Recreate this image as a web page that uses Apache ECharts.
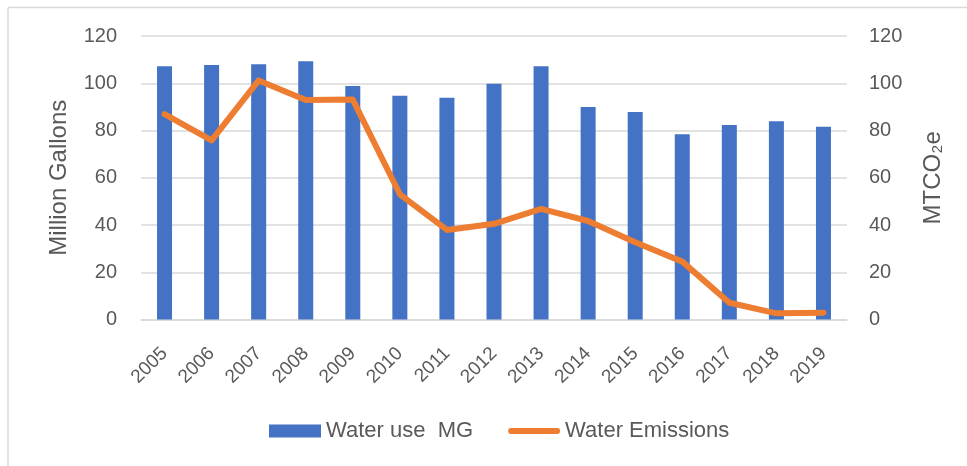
<!DOCTYPE html>
<html>
<head>
<meta charset="utf-8"/>
<title>Water use and emissions</title>
<script src="https://cdn.jsdelivr.net/npm/echarts@6/dist/echarts.min.js"></script>
<style>
  html, body { margin: 0; padding: 0; background: #fff; }
  #container { width: 967px; height: 466px; }
</style>
</head>
<body>
<div id="container"></div>
<script type="text/javascript">
    // years on the x axis
    var years = ['2005', '2006', '2007', '2008', '2009', '2010', '2011', '2012',
                 '2013', '2014', '2015', '2016', '2017', '2018', '2019'];
    // water use, million gallons (left axis)
    var waterUse = [107.2, 107.7, 108.0, 109.3, 98.8, 94.7, 93.9, 99.8,
                    107.2, 89.9, 87.8, 78.4, 82.3, 83.9, 81.6];
    // water emissions, MTCO2e (right axis)
    var waterEmissions = [86.9, 75.8, 101.2, 92.9, 93.1, 53.0, 37.9, 40.5,
                          46.8, 41.7, 32.7, 24.5, 7.1, 2.6, 2.9];

    var fontFamily = "'Liberation Sans', 'DejaVu Sans', sans-serif";
    var textColor = '#595959';

    var myChart = echarts.init(document.getElementById('container'));

    var option = {
        animation: false,
        textStyle: { fontFamily: fontFamily },
        grid: {
            left: 141,
            right: 120,
            top: 36,
            bottom: 146.5
        },
        // light frame around the chart (only top and left edges show)
        graphic: [
            { type: 'line', shape: { x1: 8, y1: 7.5, x2: 967, y2: 7.5 }, style: { stroke: '#d9d9d9', lineWidth: 1.5 } },
            { type: 'line', shape: { x1: 8, y1: 7.5, x2: 8, y2: 466 }, style: { stroke: '#d9d9d9', lineWidth: 1.5 } }
        ],
        legend: {
            left: 264,
            top: 415,
            itemGap: 35,
            itemWidth: 52,
            itemHeight: 13,
            textStyle: { color: textColor, fontSize: 22, fontFamily: fontFamily },
            data: [
                { name: 'Water use  MG', icon: 'rect' },
                // thin rounded bar, padded to the full icon box so it is not stretched
                { name: 'Water Emissions', icon: 'path://M0,0M54,13M3,3.5L51,3.5A3,3,0,0,1,51,9.5L3,9.5A3,3,0,0,1,3,3.5Z' }
            ]
        },
        xAxis: {
            type: 'category',
            data: years,
            axisLine: { show: true, lineStyle: { color: '#d9d9d9', width: 1.5 } },
            axisTick: { show: false },
            axisLabel: {
                interval: 0,
                rotate: 45,
                margin: 31,
                color: textColor,
                fontSize: 19,
                fontFamily: fontFamily
            }
        },
        yAxis: [
            {
                type: 'value',
                min: 0,
                max: 120,
                interval: 20,
                name: 'Million Gallons',
                nameLocation: 'middle',
                nameRotate: 90,
                nameGap: 70,
                nameTextStyle: { color: textColor, fontSize: 24, fontFamily: fontFamily },
                axisLine: { show: false },
                axisTick: { show: false },
                axisLabel: { color: textColor, fontSize: 20, margin: 24, fontFamily: fontFamily },
                splitLine: { lineStyle: { color: '#d9d9d9', width: 1.5 } }
            },
            {
                type: 'value',
                min: 0,
                max: 120,
                interval: 20,
                position: 'right',
                name: 'MTCO\u2082e',
                nameLocation: 'middle',
                nameRotate: 90,
                nameGap: 74,
                nameTextStyle: { color: textColor, fontSize: 24, fontFamily: fontFamily },
                axisLine: { show: false },
                axisTick: { show: false },
                axisLabel: { color: textColor, fontSize: 20, margin: 22, fontFamily: fontFamily },
                splitLine: { show: false }
            }
        ],
        series: [
            {
                name: 'Water use  MG',
                type: 'bar',
                yAxisIndex: 0,
                barWidth: 15,
                itemStyle: { color: '#4472C4' },
                data: waterUse
            },
            {
                name: 'Water Emissions',
                type: 'line',
                yAxisIndex: 1,
                symbol: 'none',
                lineStyle: { color: '#ED7D31', width: 6, cap: 'round', join: 'round' },
                itemStyle: { color: '#ED7D31' },
                data: waterEmissions
            }
        ]
    };

    myChart.setOption(option);
</script>
</body>
</html>
